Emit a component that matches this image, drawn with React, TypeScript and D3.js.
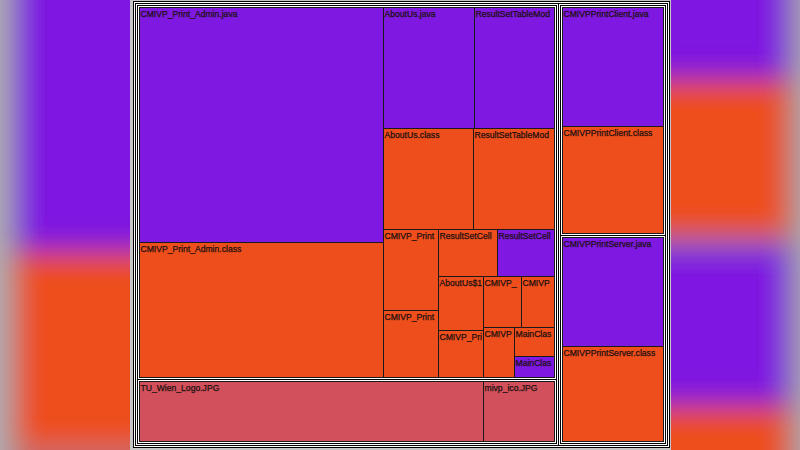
import * as d3 from "d3";
import React, { useRef, useEffect } from "react";

// files in the project, in layout order
const fileNames = [
  "CMIVP_Print_Admin.java",
  "CMIVP_Print_Admin.class",
  "AboutUs.java",
  "AboutUs.class",
  "ResultSetTableModel.java",
  "ResultSetTableModel.class",
  "CMIVP_Print_Admin$1.class",
  "CMIVP_Print_Admin$2.class",
  "ResultSetCellRenderer.class",
  "ResultSetCellRenderer.java",
  "AboutUs$1.class",
  "CMIVP_Print_Admin$3.class",
  "CMIVP_Print_Admin$4.class",
  "CMIVP_Print_Admin$5.class",
  "CMIVP_Print_Admin$6.class",
  "MainClass.class",
  "MainClass.java",
  "TU_Wien_Logo.JPG",
  "mivp_ico.JPG",
  "CMIVPPrintClient.java",
  "CMIVPPrintClient.class",
  "CMIVPPrintServer.java",
  "CMIVPPrintServer.class",
];

const fileSizes = [
  57340, 32940, 11011, 9090, 9680, 8181, 4455, 3685, 2773, 2679, 2430, 2115,
  1938, 1683, 1550, 1160, 840, 21781, 4495, 12812, 11573, 11705, 10248,
];

const extColors: Record<string, string> = {
  java: "#7f19e1",
  class: "#ee4e1b",
  jpg: "#d1505b",
};

// how the admin folder's files are split (slice = stacked, dice = side by side)
const adminLayout: any = ["dice", [
  ["slice", [0, 1]],
  ["slice", [
    ["slice", [["dice", [2, 4]], ["dice", [3, 5]]]],
    ["dice", [
      ["slice", [6, 7]],
      ["slice", [
        ["dice", [8, 9]],
        ["dice", [
          ["slice", [10, 11]],
          ["slice", [["dice", [12, 13]], ["dice", [14, ["slice", [15, 16]]]]]],
        ]],
      ]],
    ]],
  ]],
]];
const imagesFiles = [17, 18];
const clientFiles = [19, 20];
const serverFiles = [21, 22];

const leaf = (i: number) => ({
  name: fileNames[i],
  value: fileSizes[i],
  ext: fileNames[i].split(".").pop()!.toLowerCase(),
});

const buildHidden = (spec: any): any => {
  if (typeof spec === "number") return leaf(spec);
  return { tile: spec[0], hidden: true, children: spec[1].map(buildHidden) };
};

const admin = buildHidden(adminLayout);
admin.hidden = false;
admin.name = "admin";

const treeData = {
  name: "root",
  tile: "dice",
  children: [
    {
      name: "left",
      tile: "slice",
      children: [
        admin,
        { name: "images", tile: "dice", children: imagesFiles.map(leaf) },
      ],
    },
    {
      name: "right",
      tile: "slice",
      children: [
        { name: "client", tile: "slice", children: clientFiles.map(leaf) },
        { name: "server", tile: "slice", children: serverFiles.map(leaf) },
      ],
    },
  ],
};

const X0 = 133;
const Y0 = 1;
const W = 536;
const H = 446;

const drawTree = (g: any, root: any, withLabels: boolean) => {
  const nodes = root.descendants();

  // frames for folders
  g.selectAll("rect.frame")
    .data(nodes.filter((d: any) => d.children && !d.data.hidden))
    .enter()
    .append("rect")
    .attr("class", "frame")
    .attr("x", (d: any) => d.x0 + 0.5)
    .attr("y", (d: any) => d.y0 + 0.5)
    .attr("width", (d: any) => d.x1 - d.x0)
    .attr("height", (d: any) => d.y1 - d.y0)
    .attr("fill", "#ffffff")
    .attr("stroke", "#000000")
    .attr("stroke-width", 1);

  const leaves = root.leaves();
  g.selectAll("rect.leaf")
    .data(leaves)
    .enter()
    .append("rect")
    .attr("class", "leaf")
    .attr("x", (d: any) => d.x0 + 0.5)
    .attr("y", (d: any) => d.y0 + 0.5)
    .attr("width", (d: any) => d.x1 - d.x0)
    .attr("height", (d: any) => d.y1 - d.y0)
    .attr("fill", (d: any) => extColors[d.data.ext])
    .attr("stroke", "#1a1a1a")
    .attr("stroke-width", 1);

  if (!withLabels) return;

  const labels = g
    .selectAll("text.label")
    .data(leaves)
    .enter()
    .append("text")
    .attr("class", "label")
    .attr("x", (d: any) => d.x0 + 1.5)
    .attr("y", (d: any) => d.y0 + 10)
    .attr("font-family", "'Liberation Sans', Arial, sans-serif")
    .attr("font-size", 8.6)
    .attr("fill", "#1c1010")
    .attr("stroke", "#1c1010")
    .attr("stroke-width", 0.25)
    .text((d: any) => d.data.name);

  // cut the name down to what fits in the cell
  labels.each(function (this: any, d: any) {
    const room = d.x1 - d.x0 - 2;
    let txt = d.data.name;
    while (txt.length > 1 && this.getComputedTextLength() > room) {
      txt = txt.slice(0, -1);
      this.textContent = txt;
    }
  });
};

function App() {
  const ref = useRef<any>();

  useEffect(() => {
    const svg = d3.select(ref.current);
    svg.selectAll("*").remove();

    const hier = d3
      .hierarchy<any>(treeData)
      .sum((d: any) => d.value || 0);

    const layout = d3
      .treemap<any>()
      .size([W, H])
      .round(true)
      .paddingInner(0)
      .paddingOuter((n: any) => (n.data.hidden ? 0 : 2))
      .tile((node: any, x0: number, y0: number, x1: number, y1: number) => {
        const t = node.data.tile === "dice" ? d3.treemapDice : d3.treemapSlice;
        t(node, x0, y0, x1, y1);
      });
    const root = layout(hier);

    const defs = svg.append("defs");
    const f = defs
      .append("filter")
      .attr("id", "bgblur")
      .attr("x", "-20%")
      .attr("y", "-20%")
      .attr("width", "140%")
      .attr("height", "140%");
    f.append("feGaussianBlur").attr("stdDeviation", 14);

    svg
      .append("rect")
      .attr("width", 800)
      .attr("height", 450)
      .attr("fill", "#b4adb6");

    // blurred, enlarged copy as backdrop
    const s = 800 / 540;
    const bg = svg.append("g").attr("filter", "url(#bgblur)");
    const bgInner = bg
      .append("g")
      .attr(
        "transform",
        `translate(400,225) scale(${s}) translate(-400,-225) translate(${X0},${Y0})`
      );
    bgInner
      .append("rect")
      .attr("x", 130 - X0)
      .attr("y", -Y0)
      .attr("width", 540)
      .attr("height", 450)
      .attr("fill", "#c0c0c0");
    drawTree(bgInner, root, false);

    // the chart itself
    svg
      .append("rect")
      .attr("x", 130)
      .attr("y", 0)
      .attr("width", 541)
      .attr("height", 450)
      .attr("fill", "#c4c4c4");
    const g = svg.append("g").attr("transform", `translate(${X0},${Y0})`);
    drawTree(g, root, true);
  }, []);

  return (
    <svg
      ref={ref}
      width={800}
      height={450}
      style={{ position: "absolute", left: 0, top: 0, display: "block" }}
    ></svg>
  );
}

export default App;
